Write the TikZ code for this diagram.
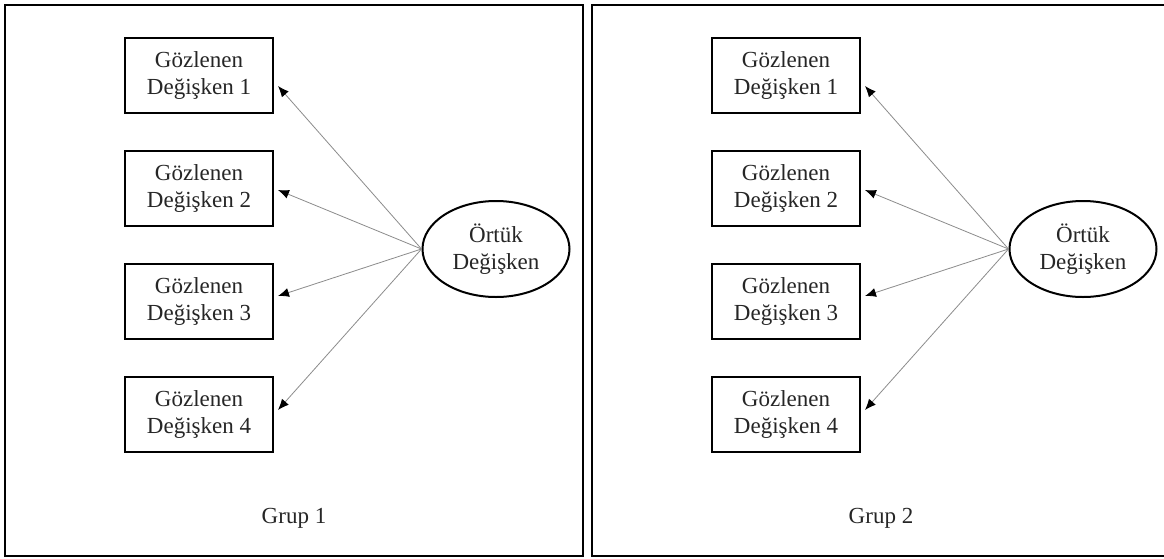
\documentclass[tikz,border=0pt]{standalone}
\usepackage{fontspec}
\setmainfont{Liberation Serif}
\usetikzlibrary{arrows.meta,shapes.geometric}
\tikzset{
  yazi/.style={font=\fontsize{11.5}{13.5}\selectfont,text=black!85},
  gozlenen/.style={yazi,draw,line width=1pt,minimum width=74pt,minimum height=37.5pt,inner sep=0pt,align=center},
  ortuk/.style={yazi,draw,ellipse,line width=1pt,minimum width=73.5pt,minimum height=48pt,inner sep=0pt,align=center},
  yuk/.style={black!45,line width=0.4pt,-{Latex[black,length=5.5pt,width=4.5pt]}},
  cerceve/.style={line width=1pt}
}
\begin{document}
\begin{tikzpicture}[x=0.5pt,y=-0.5pt]
  \useasboundingbox (0,0) rectangle (1164,558);
  \fill [white] (0,0) rectangle (1164,558);
  % Grup 1
  \draw [cerceve] (5,5) rectangle (583,556);
  \foreach \i in {1,...,4}
    \node [gozlenen] (a\i) at (199,{75.5+113*(\i-1)}) {Gözlenen\\Değişken \i};
  \node [ortuk] (ea) at (496,249) {Örtük\\Değişken};
  \foreach \i/\s in {1/-5.25,2/-0.75,3/2.75,4/2.25}
    \draw [yuk] (ea.west) -- ([xshift=2pt,yshift=\s pt]a\i.east);
  \node [yazi] (ga) at (294,518) {Grup 1};
  % Grup 2
  \draw [cerceve] (1164,556) -- (592,556) -- (592,5) -- (1164,5);
  \foreach \i in {1,...,4}
    \node [gozlenen] (b\i) at (786,{75.5+113*(\i-1)}) {Gözlenen\\Değişken \i};
  \node [ortuk] (eb) at (1083,249) {Örtük\\Değişken};
  \foreach \i/\s in {1/-5.25,2/-0.75,3/2.75,4/2.25}
    \draw [yuk] (eb.west) -- ([xshift=2pt,yshift=\s pt]b\i.east);
  \node [yazi] (gb) at (881,518) {Grup 2};
\end{tikzpicture}
\end{document}
